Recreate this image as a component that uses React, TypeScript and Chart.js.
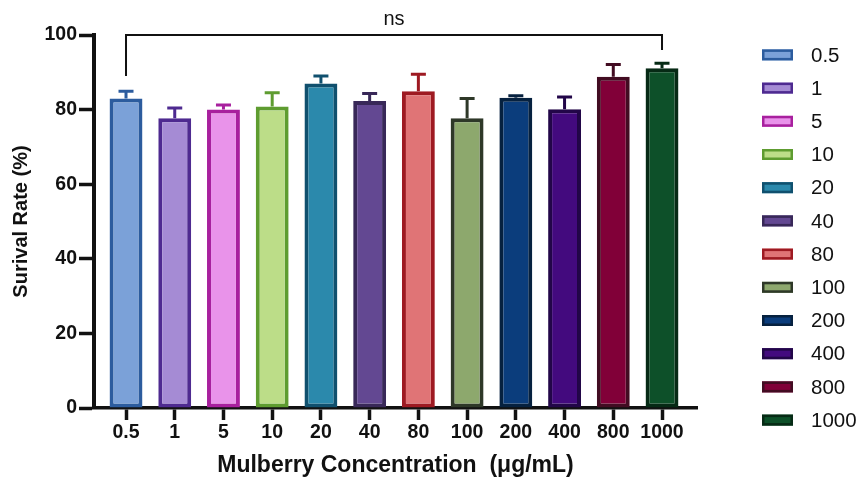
import React, { useEffect, useRef } from 'react';
import { Chart, registerables } from 'chart.js';

Chart.register(...registerables);

const concentrations = ['0.5', '1', '5', '10', '20', '40', '80', '100', '200', '400', '800', '1000'];
const survivalMeans = [83.0, 77.7, 80.0, 80.8, 87.0, 82.3, 84.9, 77.7, 83.2, 80.1, 88.8, 91.1];
const survivalErrors = [1.9, 2.7, 1.2, 3.7, 2.0, 2.0, 4.6, 5.3, 0.5, 3.3, 3.3, 1.3];
const fillColors = ['#7BA1D8', '#A58BD4', '#E993EA', '#BCDD88', '#2B89AC', '#634892', '#E07476', '#8DA86D', '#0B3D7C', '#430A7E', '#810038', '#0D5029'];
const borderColors = ['#2C5C9E', '#4E2A90', '#A8209E', '#5E9C30', '#10506E', '#382858', '#9E1A22', '#2E3828', '#06213F', '#220648', '#420C22', '#062A15'];
const yTickValues = [0, 20, 40, 60, 80, 100];
const bracketLevel = 100;
const bracketLeftEnd = 89;
const bracketRightEnd = 96;
const bracketLabel = 'ns';

const FONT = "'Liberation Sans', Arial, Helvetica, sans-serif";

const errorBarPlugin = {
  id: 'errorBars',
  afterDatasetsDraw(chart: any) {
    const ctx = chart.ctx;
    const meta = chart.getDatasetMeta(0);
    const yScale = chart.scales.y;
    ctx.save();
    meta.data.forEach((bar: any, i: number) => {
      const top = yScale.getPixelForValue(survivalMeans[i] + survivalErrors[i]);
      ctx.strokeStyle = borderColors[i];
      ctx.lineWidth = 3;
      ctx.beginPath();
      ctx.moveTo(bar.x, bar.y);
      ctx.lineTo(bar.x, top);
      ctx.moveTo(bar.x - 7.5, top);
      ctx.lineTo(bar.x + 7.5, top);
      ctx.stroke();
    });
    ctx.restore();
  },
};

const bracketPlugin = {
  id: 'bracket',
  afterDraw(chart: any) {
    const ctx = chart.ctx;
    const xs = chart.scales.x;
    const ys = chart.scales.y;
    const x0 = xs.getPixelForValue(0);
    const x1 = xs.getPixelForValue(concentrations.length - 1);
    const y = ys.getPixelForValue(bracketLevel);
    ctx.save();
    ctx.strokeStyle = '#111';
    ctx.lineWidth = 2;
    ctx.beginPath();
    ctx.moveTo(x0, ys.getPixelForValue(bracketLeftEnd));
    ctx.lineTo(x0, y);
    ctx.lineTo(x1, y);
    ctx.lineTo(x1, ys.getPixelForValue(bracketRightEnd));
    ctx.stroke();
    ctx.fillStyle = '#111';
    ctx.font = `20px ${FONT}`;
    ctx.textAlign = 'center';
    ctx.textBaseline = 'alphabetic';
    ctx.fillText(bracketLabel, (x0 + x1) / 2, y - 10);
    ctx.restore();
  },
};

const legendPlugin = {
  id: 'sideLegend',
  afterDraw(chart: any) {
    const ctx = chart.ctx;
    const ds = chart.data.datasets[0];
    const n = concentrations.length;
    const step = 33.2;
    const y0 = chart.height / 2 - 1 - ((n - 1) * step) / 2;
    const bx = 762;
    const bw = 31;
    const bh = 11;
    ctx.save();
    ctx.font = `20.5px ${FONT}`;
    ctx.textAlign = 'left';
    ctx.textBaseline = 'middle';
    concentrations.forEach((label, i) => {
      const cy = y0 + i * step;
      ctx.fillStyle = ds.backgroundColor[i];
      ctx.fillRect(bx, cy - bh / 2, bw, bh);
      ctx.strokeStyle = ds.borderColor[i];
      ctx.lineWidth = 2.5;
      ctx.strokeRect(bx + 1.25, cy - bh / 2 + 1.25, bw - 2.5, bh - 2.5);
      ctx.fillStyle = '#111';
      ctx.fillText(label, 811, cy + 1);
    });
    ctx.restore();
  },
};

export default function App() {
  const canvasRef = useRef<HTMLCanvasElement | null>(null);

  useEffect(() => {
    document.body.style.margin = '0';
    const canvas = canvasRef.current;
    if (!canvas) return;
    Chart.defaults.font.family = FONT;
    Chart.defaults.color = '#111';
    const chart = new Chart(canvas, {
      type: 'bar',
      data: {
        datasets: [
          {
            label: 'Survival Rate',
            data: concentrations.map((_, i) => ({ x: i, y: survivalMeans[i] })),
            backgroundColor: fillColors,
            borderColor: borderColors,
            borderWidth: 4,
            borderSkipped: false,
            categoryPercentage: 1,
            barPercentage: 0.675,
          } as any,
        ],
      },
      options: {
        animation: false,
        responsive: false,
        devicePixelRatio: 1,
        layout: { padding: { top: 35, right: 167, bottom: 0, left: 0 } },
        plugins: {
          legend: { display: false },
          tooltip: { enabled: false },
        },
        scales: {
          x: {
            type: 'linear',
            min: -0.657,
            max: 11.718,
            offset: false,
            afterBuildTicks: (scale: any) => {
              scale.ticks = concentrations.map((_, i) => ({ value: i }));
            },
            afterFit: (scale: any) => {
              scale.height = 69;
            },
            ticks: {
              autoSkip: false,
              maxRotation: 0,
              minRotation: 0,
              padding: 1,
              color: '#111',
              font: { size: 19.5, weight: 'bold' },
              callback: (value: any) => concentrations[value] ?? '',
            },
            grid: {
              offset: false,
              drawOnChartArea: false,
              drawTicks: true,
              tickLength: 12,
              tickWidth: 3.5,
              tickColor: '#111',
            },
            border: { display: true, color: '#111', width: 3.5 },
            title: {
              display: true,
              text: 'Mulberry Concentration  (μg/mL)',
              color: '#111',
              font: { size: 23, weight: 'bold', lineHeight: 1 },
              padding: { top: 0, bottom: 0 },
            },
          },
          y: {
            type: 'linear',
            min: 0,
            max: 100,
            afterBuildTicks: (scale: any) => {
              scale.ticks = yTickValues.map((v) => ({ value: v }));
            },
            afterFit: (scale: any) => {
              scale.width = 94;
            },
            ticks: {
              padding: 2,
              color: '#111',
              font: { size: 19.5, weight: 'bold' },
            },
            grid: {
              drawOnChartArea: false,
              drawTicks: true,
              tickLength: 15,
              tickWidth: 3.5,
              tickColor: '#111',
            },
            border: { display: true, color: '#111', width: 4 },
            title: {
              display: true,
              text: 'Surival Rate (%)',
              color: '#111',
              font: { size: 20, weight: 'bold', lineHeight: 1.2 },
              padding: { top: 9, bottom: 0 },
            },
          },
        },
      } as any,
      plugins: [errorBarPlugin, bracketPlugin, legendPlugin],
    });
    return () => chart.destroy();
  }, []);

  return (
    <div style={{ position: 'absolute', left: 0, top: 0, width: 864, height: 477 }}>
      <canvas ref={canvasRef} width={864} height={477} style={{ width: 864, height: 477, display: 'block' }} />
    </div>
  );
}
